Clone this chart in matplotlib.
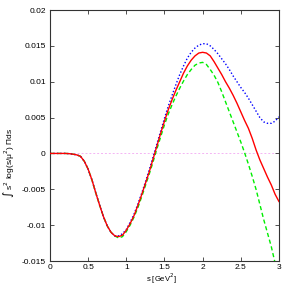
import numpy as np
import matplotlib.pyplot as plt

plt.rcParams['font.family'] = ['Liberation Sans', 'DejaVu Sans']

# s grid [GeV^2]
s = np.round(np.arange(0, 3.0001, 0.05), 2)

# shared low-s part (0 .. 0.85)
low = [0, 0, 0, 0, 0, -0.00003, -0.0001, -0.0002, -0.0004, -0.0011,
       -0.0022, -0.0037, -0.0055, -0.0072, -0.0088, -0.0101, -0.0110, -0.0115]

red = low + [-0.0116, -0.0114, -0.0107, -0.0098, -0.0087, -0.0073, -0.0058, -0.0042,
             -0.0026, -0.0008, 0.0010, 0.0028, 0.0045, 0.0061, 0.0075, 0.0088,
             0.0100, 0.0112, 0.0122, 0.0130, 0.0136, 0.0140, 0.0141, 0.0140,
             0.0136, 0.0128, 0.0119, 0.0110, 0.0100, 0.0091, 0.0081, 0.0070,
             0.0058, 0.0046, 0.0035, 0.0021, 0.0005, -0.0009, -0.0021, -0.0033,
             -0.0044, -0.0057, -0.0067]

green = low + [-0.0118, -0.0116, -0.0109, -0.0100, -0.0089, -0.0076, -0.0061, -0.0045,
               -0.0029, -0.0012, 0.0006, 0.0023, 0.0040, 0.0055, 0.0068, 0.0080,
               0.0091, 0.0101, 0.0110, 0.0117, 0.0123, 0.0126, 0.0127, 0.0124,
               0.0117, 0.0109, 0.0099, 0.0086, 0.0072, 0.0058, 0.0044, 0.0030,
               0.0016, 0.0001, -0.0015, -0.0032, -0.0050, -0.0071, -0.0092, -0.0111,
               -0.0130, -0.0153, -0.0178]

blue = low + [-0.0115, -0.0112, -0.0106, -0.0096, -0.0085, -0.0071, -0.0056, -0.0040,
              -0.0023, -0.0005, 0.0013, 0.0031, 0.0049, 0.0066, 0.0081, 0.0096,
              0.0110, 0.0122, 0.0133, 0.0141, 0.0147, 0.0151, 0.0153, 0.0153,
              0.0150, 0.0145, 0.0139, 0.0132, 0.0125, 0.0117, 0.0108, 0.0100,
              0.0092, 0.0085, 0.0077, 0.0068, 0.0059, 0.0050, 0.0044, 0.0042,
              0.0042, 0.0045, 0.0051]

xticks = [0, 0.5, 1, 1.5, 2, 2.5, 3]
xticklabels = ['0', '0.5', '1', '1.5', '2', '2.5', '3']
yticks = [-0.015, -0.01, -0.005, 0, 0.005, 0.01, 0.015, 0.02]
yticklabels = ['-0.015', '-0.01', '-0.005', '0', '0.005', '0.01', '0.015', '0.02']

fig = plt.figure(figsize=(2.93, 2.85), dpi=100)
ax = fig.add_axes([0.1706, 0.0842, 0.7814, 0.8807])

ax.axhline(0, color='#f4b4f4', lw=0.7, ls=(0, (2, 2)), zorder=1)
ax.plot(s, red, color='#ff0000', lw=1.0, zorder=3)
ax.plot(s, green, color='#00ee00', lw=1.0, ls=(0, (3, 2)), zorder=2)
ax.plot(s, blue, color='#0000ff', lw=1.0, ls=(0, (1, 1.5)), zorder=2)

ax.set_xlim(0, 3)
ax.set_ylim(-0.015, 0.02)
ax.set_xticks(xticks)
ax.set_xticklabels(xticklabels)
ax.set_yticks(yticks)
ax.set_yticklabels(yticklabels)
ax.tick_params(direction='in', length=3, width=0.6, labelsize=6, top=True, right=True,
               color='#333333', pad=3)
ax.tick_params(axis='x', pad=2)
for sp in ax.spines.values():
    sp.set_linewidth(0.8)
    sp.set_color('#333333')

fig.text(0.55, 0.022, 's [GeV$^2$]', fontsize=5.5, ha='center', va='center')
fig.text(0.028, 0.43, '\u222b s$^2$ log(s/\u03bc$^2$) \u03a0ds', rotation=90, fontsize=6,
         ha='center', va='center')

fig.savefig('out.png', dpi=100)
